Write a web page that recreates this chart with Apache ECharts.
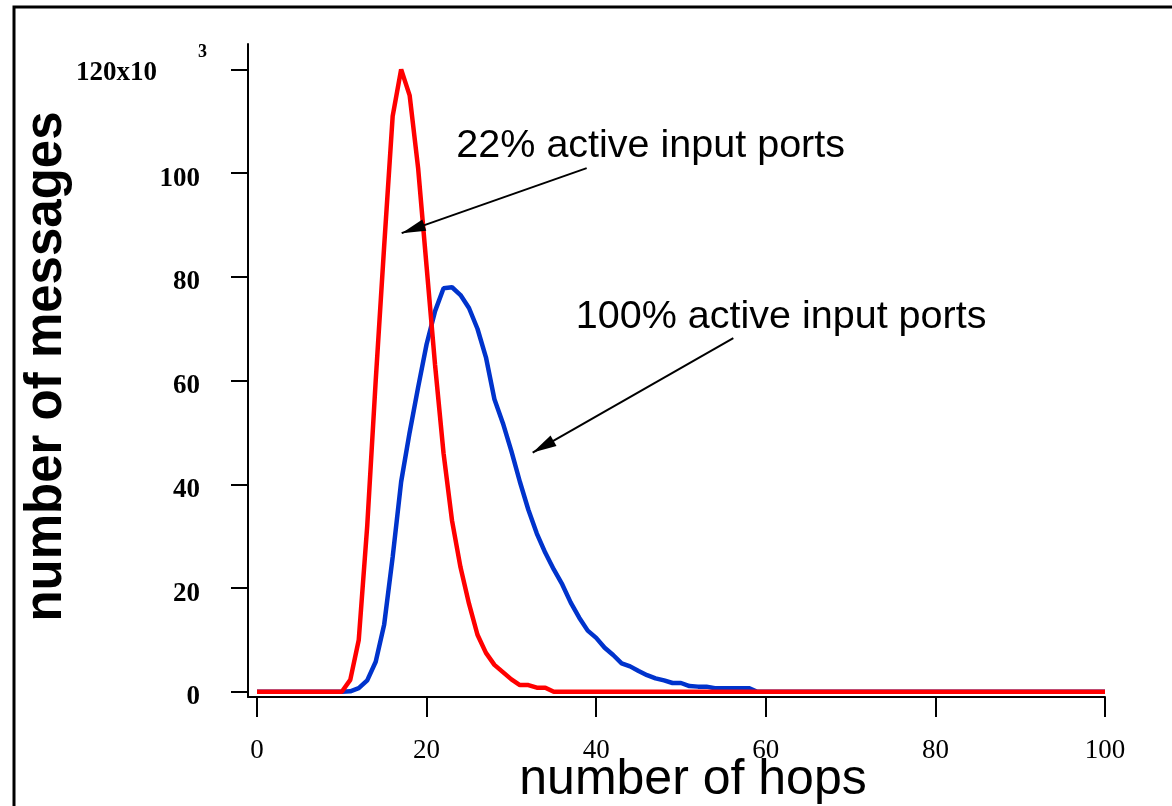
<!DOCTYPE html>
<html>
<head>
<meta charset="utf-8">
<title>number of hops</title>
<script src="https://cdn.jsdelivr.net/npm/echarts@6/dist/echarts.min.js"></script>
<style>
  html, body { margin: 0; padding: 0; background: #fff; }
  #chart { width: 1172px; height: 806px; }
</style>
</head>
<body>
<div id="chart"></div>
<script>
// messages in thousands (x10^3) per number of hops
const redHops = [0, 10, 11, 12, 13, 14, 15, 16, 17, 18, 19, 20, 21, 22, 23, 24, 25, 26, 27, 28, 29, 30, 31, 32, 33, 34, 35, 100];
const redMsgs = [0, 0, 2.3, 10, 32, 60, 86, 111, 120, 115, 101, 82, 63, 46, 33, 24, 17, 11, 7.5, 5.2, 3.8, 2.4, 1.3, 1.3, 0.8, 0.8, 0, 0];

const blueHops = [0, 10, 11, 12, 13, 14, 15, 16, 17, 18, 19, 20, 21, 22, 23, 24, 25, 26, 27, 28, 29, 30,
  31, 32, 33, 34, 35, 36, 37, 38, 39, 40, 41, 42, 43, 44, 45, 46, 47, 48, 49, 50,
  51, 52, 53, 54, 55, 56, 57, 58, 59, 100];
const blueMsgs = [0, 0, 0.1, 0.7, 2.2, 5.8, 13, 26, 40.5, 50, 58.7, 67, 73.4, 77.8, 78, 76.5, 74, 70, 64.5, 56.4, 51.8, 46.4,
  40.5, 35.1, 30.5, 26.8, 23.6, 20.7, 17.2, 14.3, 11.8, 10.4, 8.5, 7.1, 5.5, 4.9, 4, 3.2, 2.6, 2.2, 1.7, 1.7,
  1.1, 1.0, 1.0, 0.7, 0.7, 0.7, 0.7, 0.7, 0, 0];

const xTicks = [0, 20, 40, 60, 80, 100];
const yTicks = [0, 20, 40, 60, 80, 100, 120];

// annotations, in data units
const notes = ['22% active input ports', '100% active input ports'];
const notePos = [[23.45, 105.2], [37.54, 72.25]];
const arrowFrom = [[38.88, 100.96], [56.17, 68.19]];
const arrowTo = [[17.06, 88.43], [32.51, 46.13]];

const serif = 'Liberation Serif';
const sans = 'Liberation Sans';

// filled arrow head whose tip sits at the centre of the symbol box
const arrowHead = 'path://M0,0L6,24L-6,24ZM0,-24L0,-24';

function pairs(xs, ys) {
  return xs.map((x, i) => [x, ys[i]]);
}

const chart = echarts.init(document.getElementById('chart'));

chart.setOption({
  animation: false,
  backgroundColor: '#fff',
  grid: { left: 248, top: 44, width: 857, height: 653, outerBoundsMode: 'none', containLabel: false },
  graphic: [{
    type: 'polyline',
    shape: { points: [[14, 806], [14, 7], [1172, 7]] },
    style: { stroke: '#000', lineWidth: 3, fill: null }
  }],
  xAxis: {
    type: 'value',
    min: -1.06,
    max: 100,
    name: 'number of hops',
    nameLocation: 'middle',
    nameGap: 58,
    nameMoveOverlap: false,
    nameTextStyle: { fontFamily: sans, fontSize: 50, color: '#000', padding: [0, 0, 0, 33] },
    axisLine: { onZero: false, lineStyle: { color: '#000', width: 2 } },
    axisTick: { length: 20, customValues: xTicks, lineStyle: { color: '#000', width: 2 } },
    axisLabel: { customValues: xTicks, margin: 40, fontFamily: serif, fontSize: 27, color: '#000' },
    splitLine: { show: false }
  },
  yAxis: {
    type: 'value',
    min: -1,
    max: 124.9,
    name: 'number of messages',
    nameLocation: 'middle',
    nameGap: 176,
    nameMoveOverlap: false,
    nameTextStyle: { fontFamily: sans, fontWeight: 'bold', fontSize: 51, color: '#000', padding: [0, 0, 0, 8] },
    axisLine: { onZero: false, lineStyle: { color: '#000', width: 2 } },
    axisTick: { length: 17, customValues: yTicks, lineStyle: { color: '#000', width: 2 } },
    axisLabel: {
      customValues: yTicks,
      margin: 41,
      fontFamily: serif,
      fontWeight: 'bold',
      fontSize: 27,
      color: '#000',
      padding: [6, 0, 0, 0],
      formatter: function (v) {
        return v === 120 ? '{s|3}\n{a|120x10}' : '{v|' + v + '}';
      },
      rich: {
        v: { fontFamily: serif, fontWeight: 'bold', fontSize: 27, padding: [5, 7, 0, 0] },
        s: { fontFamily: serif, fontWeight: 'bold', fontSize: 18, lineHeight: 2 },
        a: { fontFamily: serif, fontWeight: 'bold', fontSize: 27, lineHeight: 40, padding: [0, 50, 0, 0] }
      }
    },
    splitLine: { show: false }
  },
  series: [
    {
      name: '100% active input ports',
      type: 'line',
      data: pairs(blueHops, blueMsgs),
      symbol: 'none',
      lineStyle: { color: '#0033cc', width: 4.5 },
      z: 2
    },
    {
      name: '22% active input ports',
      type: 'line',
      data: pairs(redHops, redMsgs),
      symbol: 'none',
      lineStyle: { color: '#ff0000', width: 4.5 },
      z: 3
    },
    {
      name: 'notes',
      type: 'line',
      data: [],
      z: 4,
      markLine: {
        silent: true,
        symbol: ['none', arrowHead],
        symbolSize: [12, 48],
        label: { show: false },
        lineStyle: { color: '#000', width: 2, type: 'solid' },
        itemStyle: { color: '#000' },
        data: arrowFrom.map((p, i) => [{ coord: p }, { coord: arrowTo[i] }])
      },
      markPoint: {
        silent: true,
        symbol: 'circle',
        symbolSize: 1,
        itemStyle: { color: 'rgba(0,0,0,0)' },
        label: {
          show: true,
          position: 'right',
          distance: 0,
          formatter: '{b}',
          fontFamily: sans,
          fontSize: 39.5,
          color: '#000'
        },
        data: notes.map((t, i) => ({ name: t, coord: notePos[i] }))
      }
    }
  ]
});
</script>
</body>
</html>
